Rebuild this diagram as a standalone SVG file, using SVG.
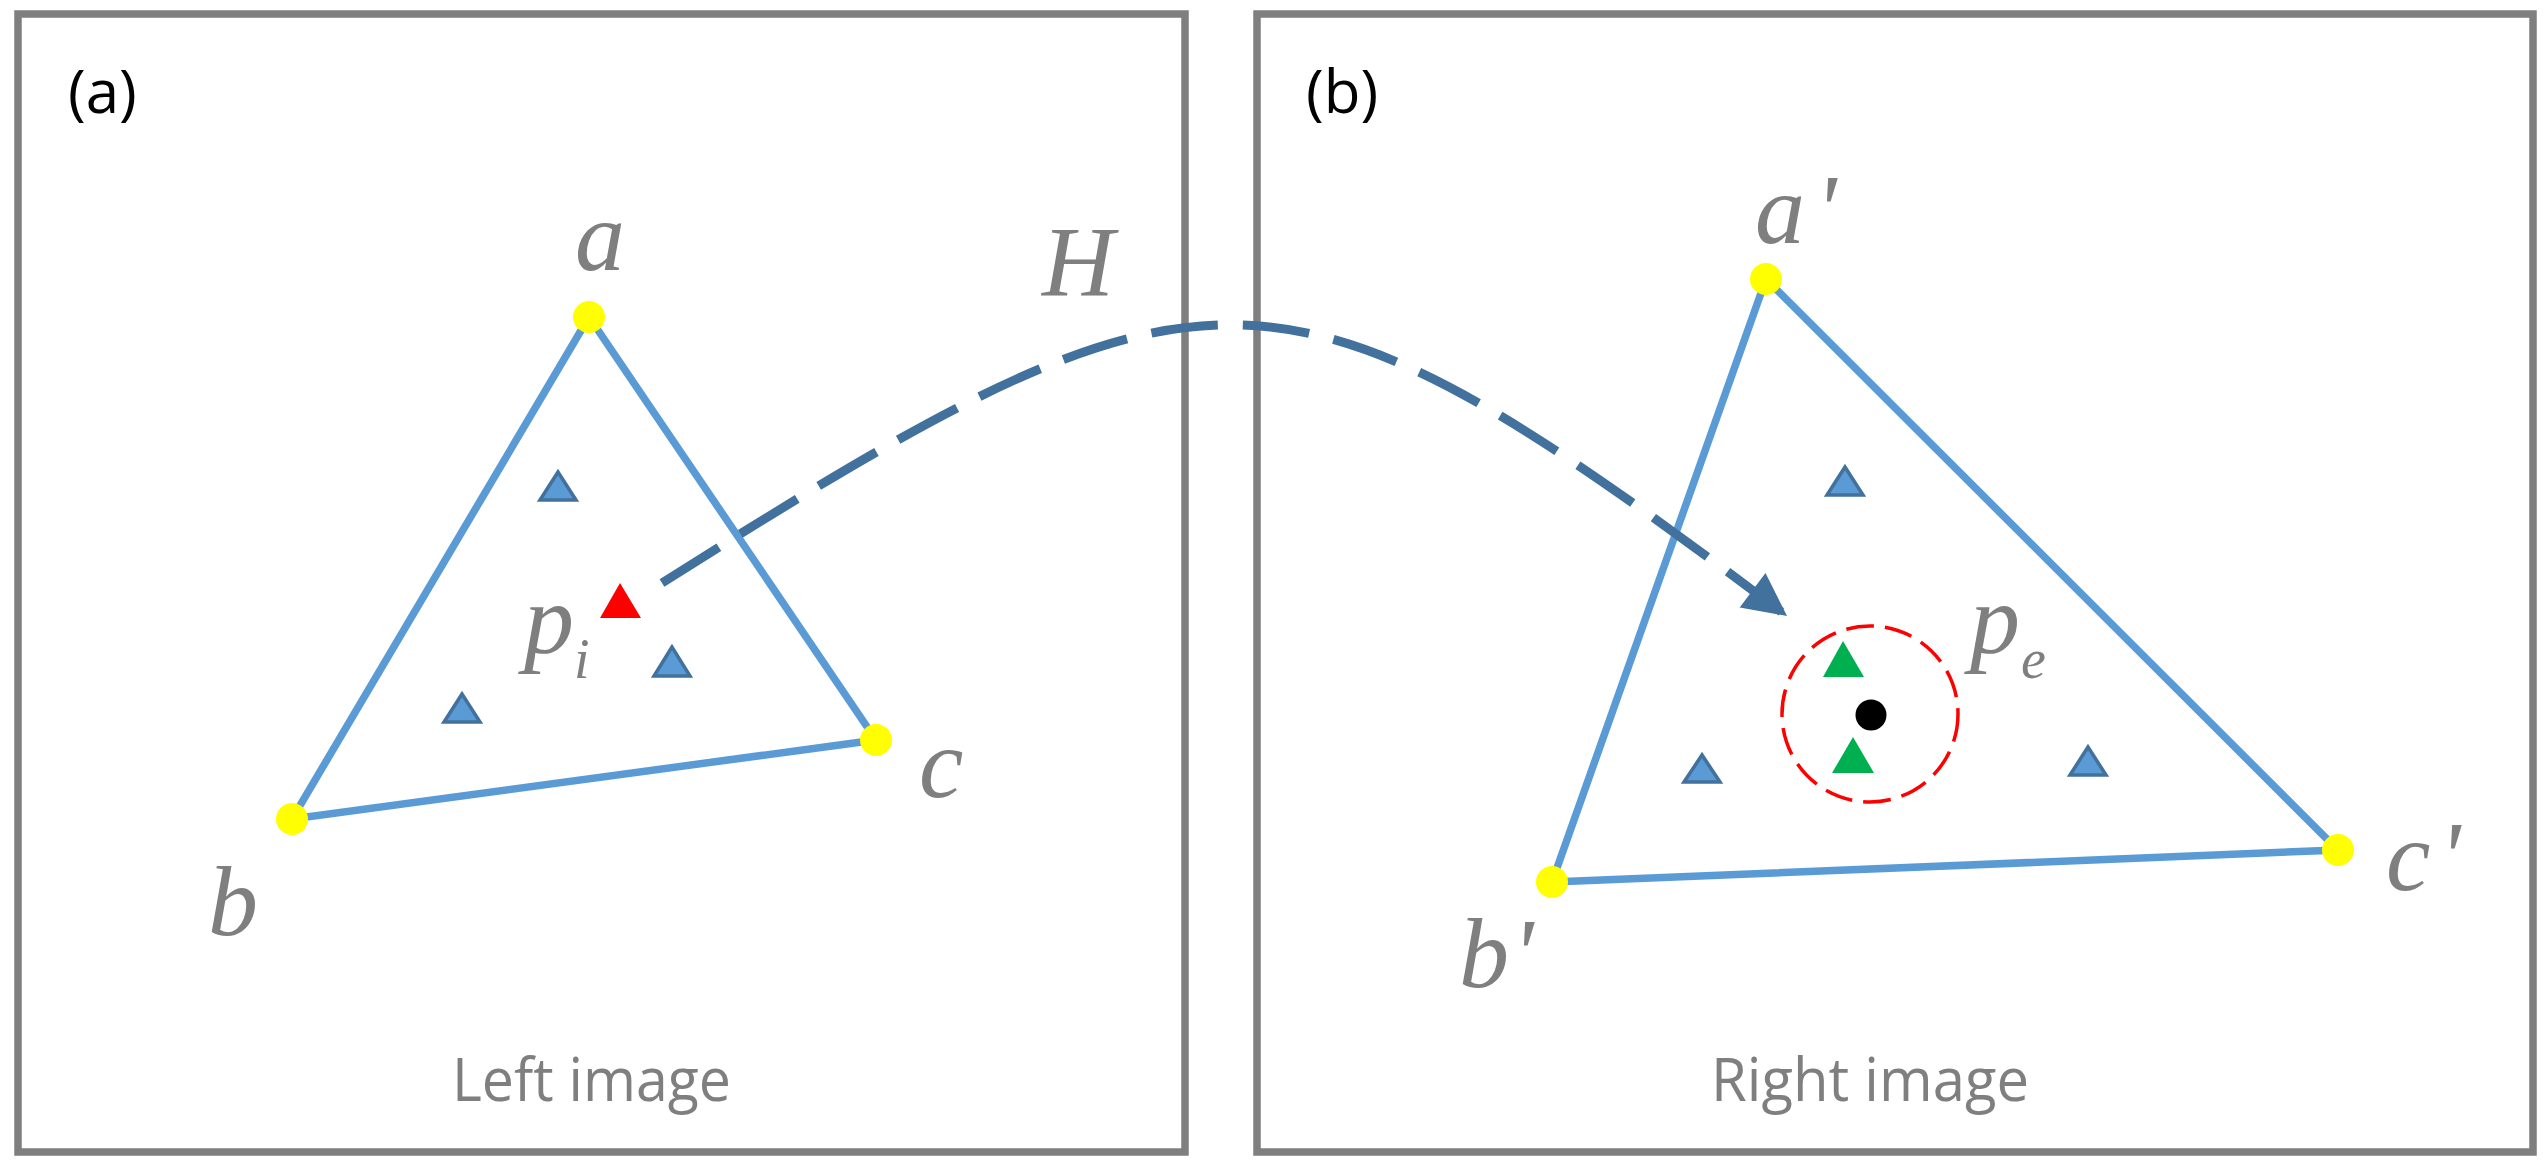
<svg xmlns="http://www.w3.org/2000/svg" width="2548" height="1171" viewBox="0 0 2548 1171">
  <style>
    .frame { fill: none; stroke: #7f7f7f; stroke-width: 7.5; }
    .edge { fill: none; stroke: #5b9bd5; stroke-width: 7.5; stroke-linecap: round; }
    .vert { fill: #ffff00; }
    .pt { fill: #5b9bd5; stroke: #41719c; stroke-width: 3.5; stroke-linejoin: miter; }
    .red { fill: #ff0000; }
    .green { fill: #00b050; }
    .math { font-family: "Liberation Serif", "Times New Roman", serif; font-style: italic; fill: #7f7f7f; font-size: 100px; }
    .sub { font-size: 56px; }
    .tag { font-family: "Open Sans", "Liberation Sans", sans-serif; font-size: 60px; fill: #000000; }
    .cap { font-family: "Open Sans", "Liberation Sans", sans-serif; font-size: 60px; fill: #7f7f7f; }
    .conn { fill: none; stroke: #41719c; stroke-width: 9; stroke-dasharray: 67 25; stroke-linecap: butt; }
    .ring { fill: none; stroke: #ff0000; stroke-width: 3.5; stroke-dasharray: 28 11; }
  </style>
  <defs>
    <marker id="arrowhead" markerUnits="userSpaceOnUse" markerWidth="50" markerHeight="50" viewBox="-45 -25 50 50" refX="0" refY="0" orient="auto">
      <path d="M0,0 L-43,-21.5 L-43,21.5 Z" fill="#41719c"/>
    </marker>
  </defs>
  <rect width="2548" height="1171" fill="#ffffff"/>

  <g id="left-image">
    <rect class="frame" x="18" y="14" width="1167" height="1138"/>
    <text class="tag" x="68" y="113">(a)</text>
    <text class="cap" x="452" y="1101" textLength="279" lengthAdjust="spacingAndGlyphs">Left image</text>
  </g>
  <g id="right-image">
    <rect class="frame" x="1257" y="14" width="1276" height="1138"/>
    <text class="tag" x="1306" y="113">(b)</text>
    <text class="cap" x="1711" y="1101" textLength="318" lengthAdjust="spacingAndGlyphs">Right image</text>
  </g>

  <g id="triangle-abc">
    <polygon class="edge" points="589,317 292,819 876,740"/>
    <circle class="vert" cx="589" cy="317" r="16"/>
    <circle class="vert" cx="292" cy="819" r="16"/>
    <circle class="vert" cx="876" cy="740" r="16"/>
    <text class="math" x="575" y="270">a</text>
    <text class="math" x="208" y="935">b</text>
    <text class="math" x="919" y="797">c</text>
  </g>
  <g id="left-points">
    <polygon class="pt" points="558,472 540,500 576,500"/>
    <polygon class="pt" points="462,694 444,722 480,722"/>
    <polygon class="pt" points="672,647 654,676 690,676"/>
  </g>
  <g id="point-pi">
    <polygon class="red" points="620,583 600,618 641,618"/>
    <text class="math" x="524" y="653">p<tspan class="sub" x="574" y="678">i</tspan></text>
  </g>

  <g id="triangle-abc-prime">
    <polygon class="edge" points="1766,279 1552,882 2338,850"/>
    <circle class="vert" cx="1766" cy="279" r="16"/>
    <circle class="vert" cx="1552" cy="882" r="16"/>
    <circle class="vert" cx="2338" cy="850" r="16"/>
    <text class="math" x="1755" y="243">a<tspan x="1815">'</tspan></text>
    <text class="math" x="1459" y="987">b<tspan x="1512">'</tspan></text>
    <text class="math" x="2386" y="890">c<tspan x="2439">'</tspan></text>
  </g>
  <g id="right-points">
    <polygon class="pt" points="1845,467 1827,495 1863,495"/>
    <polygon class="pt" points="1702,755 1684,782 1720,782"/>
    <polygon class="pt" points="2088,747 2070,775 2106,775"/>
  </g>
  <g id="point-pe">
    <circle class="ring" cx="1870" cy="714" r="88"/>
    <polygon class="green" points="1843,641 1823,677 1864,677"/>
    <polygon class="green" points="1853,737 1832,773 1874,773"/>
    <circle cx="1871" cy="715" r="15.5" fill="#000000"/>
    <text class="math" x="1970" y="653">p<tspan class="sub" x="2021" y="678">e</tspan></text>
  </g>

  <g id="connectors">
    <path class="conn" d="M662,583 C1216,233 1277,234 1787,616" marker-end="url(#arrowhead)"/>
    <text class="math" x="1042" y="295">H</text>
  </g>
</svg>
